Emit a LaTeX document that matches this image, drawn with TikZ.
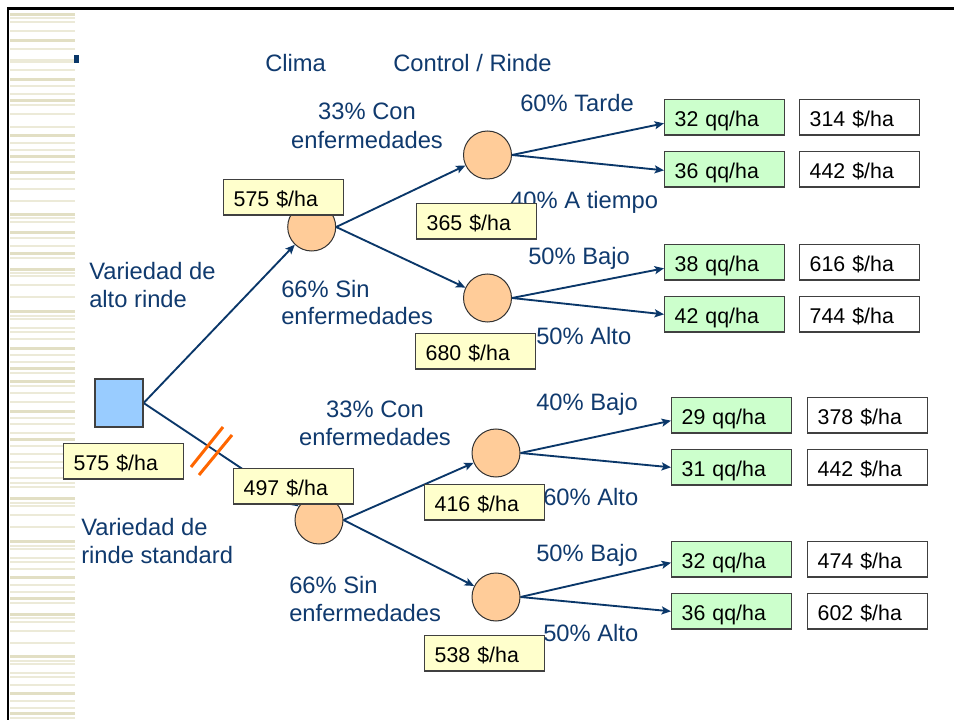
\documentclass[tikz,border=0pt]{standalone}
\usepackage{fontspec}
\setmainfont{Liberation Sans}
\usetikzlibrary{arrows.meta}
\definecolor{navy}{RGB}{16,58,110}
\definecolor{linec}{RGB}{10,55,105}
\definecolor{yel}{RGB}{255,255,204}
\definecolor{grn}{RGB}{204,255,204}
\definecolor{orng}{RGB}{255,204,153}
\definecolor{blu}{RGB}{153,204,255}
\definecolor{slashc}{RGB}{255,102,0}
\definecolor{stripeA}{RGB}{226,223,196}
\definecolor{stripeB}{RGB}{236,234,216}
\pgfdeclarelayer{bg}
\pgfdeclarelayer{edges}
\pgfsetlayers{bg,edges,main}
\begin{document}
\begin{tikzpicture}[x=0.75pt,y=-0.75pt,
  lbl/.style={text=navy, font=\fontsize{17.8}{21}\selectfont, inner sep=0pt, anchor=base west},
  lblc/.style={lbl, anchor=base},
  valbox/.style={draw=black!75, line width=1pt, text width=75pt, inner xsep=7.5pt, inner ysep=0pt,
    text height=14.5pt, text depth=1pt,
    minimum height=26.5pt, align=left, font=\fontsize{16}{19}\selectfont, anchor=north west},
  ybox/.style={valbox, fill=yel},
  gbox/.style={valbox, fill=grn},
  wbox/.style={valbox, fill=white},
  chance/.style={circle, draw=black!80, line width=0.75pt, fill=orng, minimum size=36pt, inner sep=0pt},
  decision/.style={rectangle, draw=black!75, line width=0.9pt, fill=blu, minimum size=36pt, inner sep=0pt},
  conn/.style={draw=linec, line width=1.4pt, -{Stealth[length=7pt,width=6pt,inset=1.5pt]}},
  slash/.style={draw=slashc, line width=2.25pt},
  stripethick/.style={fill=stripeA},
  stripethin/.style={fill=stripeB},
]
\useasboundingbox (0,0) rectangle (954,720);
\begin{pgfonlayer}{bg}
  \fill[white] (0,0) rectangle (954,720);
  \foreach \y in {13,39,78,99,134,155,171,213,231,252,268,310,347,367,380,410,438,497,540,576,597,613,655,692,712}
    \path[stripethick] (10,\y) rectangle (75,\y+3);
  \foreach \y in {18,22,31,49,60,62,70,86,94,105,114,127,143,150,162,179,189,201,218,222,238,246,258,273,276,285,297,316,319,328,332,339,355,362,373,386,393,402,418,424,433,446,454,462,468,478,483,487,503,506,515,527,546,549,558,562,569,585,592,603,618,622,631,643,661,664,673,677,685,701,708,718}
    \path[stripethin] (10,\y-0.7) rectangle (75,\y+0.7);
  \draw[line width=1.9pt, black, line join=miter] (8,720) -- (8,8.5) -- (954,8.5);
  \fill[linec] (74,55) rectangle (79,63);
\end{pgfonlayer}

% labels
\node[lbl] (tclima) at (265,71.5) {Clima};
\node[lbl] (tcontrol) at (393,71.5) {Control / Rinde};
\node[lblc] (a1) at (367,119.5) {33\% Con};
\node[lblc] (a2) at (367,148.5) {enfermedades};
\node[lbl] (a3) at (520,111.5) {60\% Tarde};
\node[lbl] (a4) at (510,208.5) {40\% A tiempo};
\node[lbl] (a5) at (528,264.5) {50\% Bajo};
\node[lbl] (a6) at (536,344.5) {50\% Alto};
\node[lbl] (a7) at (281,297.5) {66\% Sin};
\node[lbl] (a8) at (281,324.5) {enfermedades};
\node[lbl] (va1) at (89,279.5) {Variedad de};
\node[lbl] (va2) at (89,307.5) {alto rinde};
\node[lblc] (b1) at (375,417.5) {33\% Con};
\node[lblc] (b2) at (375,445.5) {enfermedades};
\node[lbl] (b3) at (536,410.5) {40\% Bajo};
\node[lbl] (b4) at (543,505.5) {60\% Alto};
\node[lbl] (b5) at (536,561.5) {50\% Bajo};
\node[lbl] (b6) at (543,641.5) {50\% Alto};
\node[lbl] (b7) at (289,593.5) {66\% Sin};
\node[lbl] (b8) at (289,621.5) {enfermedades};
\node[lbl] (vb1) at (81,535.5) {Variedad de};
\node[lbl] (vb2) at (81,563.5) {rinde standard};

% decision and chance nodes
\node[decision] (d) at (119,403) {};
\node[chance] (c1) at (311.7,227) {};
\node[chance] (c2) at (319,520) {};
\node[chance] (s1) at (487.5,155) {};
\node[chance] (s2) at (487.5,298) {};
\node[chance] (s3) at (496,453) {};
\node[chance] (s4) at (496,597) {};

% value boxes
\node[ybox] (v0) at (63,443) {575 \$/ha};
\node[ybox] (v1) at (223,179) {575 \$/ha};
\node[ybox] (v11) at (416,203) {365 \$/ha};
\node[ybox] (v12) at (415,333) {680 \$/ha};
\node[ybox] (v2) at (233,468) {497 \$/ha};
\node[ybox] (v21) at (424,484) {416 \$/ha};
\node[ybox] (v22) at (424,635) {538 \$/ha};

\node[gbox] (g1) at (664,99) {32 qq/ha};
\node[gbox] (g2) at (664,151) {36 qq/ha};
\node[gbox] (g3) at (664,244) {38 qq/ha};
\node[gbox] (g4) at (664,296) {42 qq/ha};
\node[gbox] (g5) at (671,397) {29 qq/ha};
\node[gbox] (g6) at (671,449) {31 qq/ha};
\node[gbox] (g7) at (671,541) {32 qq/ha};
\node[gbox] (g8) at (671,593) {36 qq/ha};

\node[wbox] (w1) at (799,99) {314 \$/ha};
\node[wbox] (w2) at (799,151) {442 \$/ha};
\node[wbox] (w3) at (799,244) {616 \$/ha};
\node[wbox] (w4) at (799,296) {744 \$/ha};
\node[wbox] (w5) at (807,397) {378 \$/ha};
\node[wbox] (w6) at (807,449) {442 \$/ha};
\node[wbox] (w7) at (807,541) {474 \$/ha};
\node[wbox] (w8) at (807,593) {602 \$/ha};

\begin{pgfonlayer}{edges}
  \draw[conn] (d.east) -- (c1);
  \draw[conn] (d.east) -- (c2);
  \draw[conn] (c1.east) -- (s1);
  \draw[conn] (c1.east) -- (s2);
  \draw[conn] (c2.east) -- (s3);
  \draw[conn] (c2.east) -- (s4);
  \draw[conn] (s1.east) -- ([yshift=-4.5pt]g1.west);
  \draw[conn] (s1.east) -- ([yshift=-0.75pt]g2.west);
  \draw[conn] (s2.east) -- ([yshift=-4.5pt]g3.west);
  \draw[conn] (s2.east) -- (g4.west);
  \draw[conn] (s3.east) -- ([yshift=-4pt]g5.west);
  \draw[conn] (s3.east) -- (g6.west);
  \draw[conn] (s4.east) -- ([yshift=-2.5pt]g7.west);
  \draw[conn] (s4.east) -- (g8.west);
\end{pgfonlayer}

% cut marks on the standard-variety branch
\draw[slash] (191,467) -- (223,427);
\draw[slash] (199,475) -- (232,435);
\end{tikzpicture}
\end{document}
